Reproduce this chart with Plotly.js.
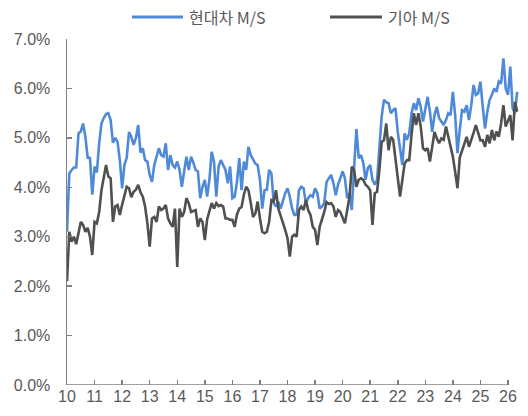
<!DOCTYPE html>
<html>
<head>
<meta charset="utf-8">
<script src="https://cdn.plot.ly/plotly-3.0.1.min.js"></script>
<style>html,body{margin:0;padding:0;background:#fff;}#chart{width:528px;height:416px;}</style>
</head>
<body>
<div id="chart"></div>
<script>
// Monthly market share (%), Jan 2010 onward
const startYear = 10;
const hyundai = [
3.1,4.28,4.35,4.4,4.4,5.09,5.13,5.29,5.02,4.6,4.59,3.85,
4.42,4.3,4.89,5.29,5.4,5.48,5.5,5.36,4.9,5.0,4.92,4.55,
3.98,4.45,4.6,5.12,5.02,4.86,5.0,5.26,4.7,4.79,4.55,4.52,
4.25,4.11,4.45,4.6,4.79,4.65,4.62,4.89,4.35,4.65,4.45,4.4,
4.52,4.35,4.01,4.32,4.62,4.35,4.62,4.5,4.35,4.32,3.78,4.01,
4.15,3.81,4.15,4.72,4.52,3.81,4.42,4.55,4.45,4.35,4.08,4.42,
3.78,3.81,4.11,4.59,3.94,4.52,4.35,4.82,4.65,4.55,4.48,4.45,
4.15,3.57,3.94,3.95,4.35,4.28,3.68,3.61,3.71,3.57,3.75,3.88,
3.98,3.81,3.57,3.44,3.44,3.94,4.01,3.98,3.68,3.78,3.84,3.81,
3.98,3.88,3.57,3.61,3.68,4.11,4.18,4.25,4.08,3.84,4.05,4.21,
4.32,4.18,3.78,3.88,3.54,4.4,5.18,4.59,4.65,4.49,4.15,4.39,
4.45,4.15,4.05,4.15,4.82,5.43,5.77,5.72,5.7,5.5,5.56,5.6,
5.12,4.79,4.45,5.09,4.96,5.09,5.5,5.7,5.56,5.8,5.63,5.33,
5.6,5.83,5.53,5.12,5.46,5.63,5.4,5.33,5.26,5.36,5.5,5.46,
5.93,5.46,4.69,5.16,5.56,5.53,5.66,5.36,5.66,6.07,5.87,5.9,
6.14,5.63,5.19,5.53,5.77,5.87,6.0,5.93,6.14,6.1,6.61,6.0,
5.87,6.44,5.6,5.5,5.93
];
const kia = [
2.1,3.1,2.9,3.0,2.85,3.1,3.3,3.24,3.1,3.18,3.0,2.63,
3.3,3.27,3.5,3.94,4.2,4.45,4.22,4.18,3.3,3.61,3.64,3.44,
3.65,3.81,4.01,3.98,3.8,3.91,3.95,4.05,3.9,3.81,3.61,3.27,
2.8,3.37,3.4,3.3,3.61,3.54,3.57,3.64,3.37,3.27,3.2,3.57,
2.39,3.57,3.4,3.5,3.78,3.68,3.5,3.52,3.54,3.2,3.37,3.3,
2.93,3.35,3.5,3.68,3.57,3.68,3.62,3.64,3.61,3.37,3.37,3.34,
3.34,3.2,3.45,3.57,3.6,3.85,4.01,3.94,3.68,3.4,3.47,3.71,
3.37,3.1,3.07,3.1,3.3,3.74,3.71,3.94,3.57,3.44,3.3,3.14,
2.97,2.6,3.0,3.04,3.0,3.54,3.61,3.54,3.74,3.54,3.44,3.2,
3.14,2.83,3.2,3.34,3.5,3.7,3.66,3.68,3.61,3.4,3.54,3.5,
3.37,3.27,3.54,3.81,4.42,4.35,4.01,4.15,4.18,4.15,4.05,4.01,
3.94,3.24,3.88,3.91,4.35,4.92,4.95,5.29,4.75,5.02,4.96,4.55,
4.21,3.81,4.15,4.48,4.55,4.55,5.06,5.5,5.26,5.5,5.23,4.79,
4.75,4.79,4.52,4.82,5.12,4.99,4.89,4.99,4.96,5.23,5.02,4.82,
4.62,4.31,3.98,4.6,4.75,4.85,5.02,4.82,4.95,5.1,5.26,5.09,
4.95,4.95,4.82,5.06,4.89,5.16,4.95,5.13,5.02,5.29,5.66,5.23,
5.33,5.46,4.95,5.73,5.53
];
const yearTicks = [10,11,12,13,14,15,16,17,18,19,20,21,22,23,24,25,26];
const yTicks = [0,1,2,3,4,5,6,7];
const seriesNames = ['현대차 M/S','기아 M/S'];
const colors = ['#4f8ad9','#505050'];

const xVals = hyundai.map((_, i) => startYear + i / 12);

const L = 67, R = 520, T = 39, B = 385;
const px = v => (v - L) / (R - L);
const py = v => (B - v) / (B - T);
const xMax = 10 + (R - L) / ((508 - 67) / 16);

const font = {family: 'Liberation Sans, Arial, sans-serif', size: 16, color: '#595959'};

const traces = [
  {x: xVals, y: hyundai, type: 'scatter', mode: 'lines', name: seriesNames[0],
   line: {color: colors[0], width: 2.6}, showlegend: false},
  {x: xVals, y: kia, type: 'scatter', mode: 'lines', name: seriesNames[1],
   line: {color: colors[1], width: 2.6}, showlegend: false}
];

const layout = {
  width: 528, height: 416,
  margin: {l: L, r: 528 - R, t: T, b: 416 - B, pad: 0},
  paper_bgcolor: '#fff', plot_bgcolor: '#fff',
  font: font,
  showlegend: false,
  xaxis: {
    range: [10, xMax], tickvals: yearTicks, ticktext: yearTicks.map(String),
    ticks: 'inside', ticklen: 5, tickcolor: '#808080', tickwidth: 1.5,
    showline: false, showgrid: false, zeroline: false,
    tickfont: {family: font.family, size: 16, color: '#595959'}
  },
  yaxis: {
    range: [0, 7], tickvals: yTicks, ticktext: yTicks.map(v => v.toFixed(1) + '%'),
    ticks: 'inside', ticklen: 5, tickcolor: '#808080', tickwidth: 1.5,
    showline: true, linecolor: '#808080', linewidth: 1.5,
    showgrid: false, zeroline: false, ticklabelstandoff: 12,
    tickfont: {family: font.family, size: 16, color: '#595959'}
  },
  shapes: [
    {type: 'line', xref: 'x', yref: 'y', x0: 10, x1: 26, y0: 0, y1: 0,
     line: {color: '#808080', width: 1.5}},
    {type: 'line', xref: 'paper', yref: 'paper', x0: px(132), x1: px(183), y0: py(17), y1: py(17),
     line: {color: colors[0], width: 3}},
    {type: 'line', xref: 'paper', yref: 'paper', x0: px(330), x1: px(382), y0: py(17), y1: py(17),
     line: {color: colors[1], width: 3}}
  ],
  annotations: [
    {xref: 'paper', yref: 'paper', x: px(187), y: py(17), text: seriesNames[0], showarrow: false,
     xanchor: 'left', yanchor: 'middle', font: {family: 'Noto Sans CJK KR, Liberation Sans, sans-serif', size: 16, color: '#595959'}},
    {xref: 'paper', yref: 'paper', x: px(386), y: py(17), text: seriesNames[1], showarrow: false,
     xanchor: 'left', yanchor: 'middle', font: {family: 'Noto Sans CJK KR, Liberation Sans, sans-serif', size: 16, color: '#595959'}}
  ]
};

Plotly.newPlot('chart', traces, layout, {staticPlot: true, displayModeBar: false});
</script>
</body>
</html>
